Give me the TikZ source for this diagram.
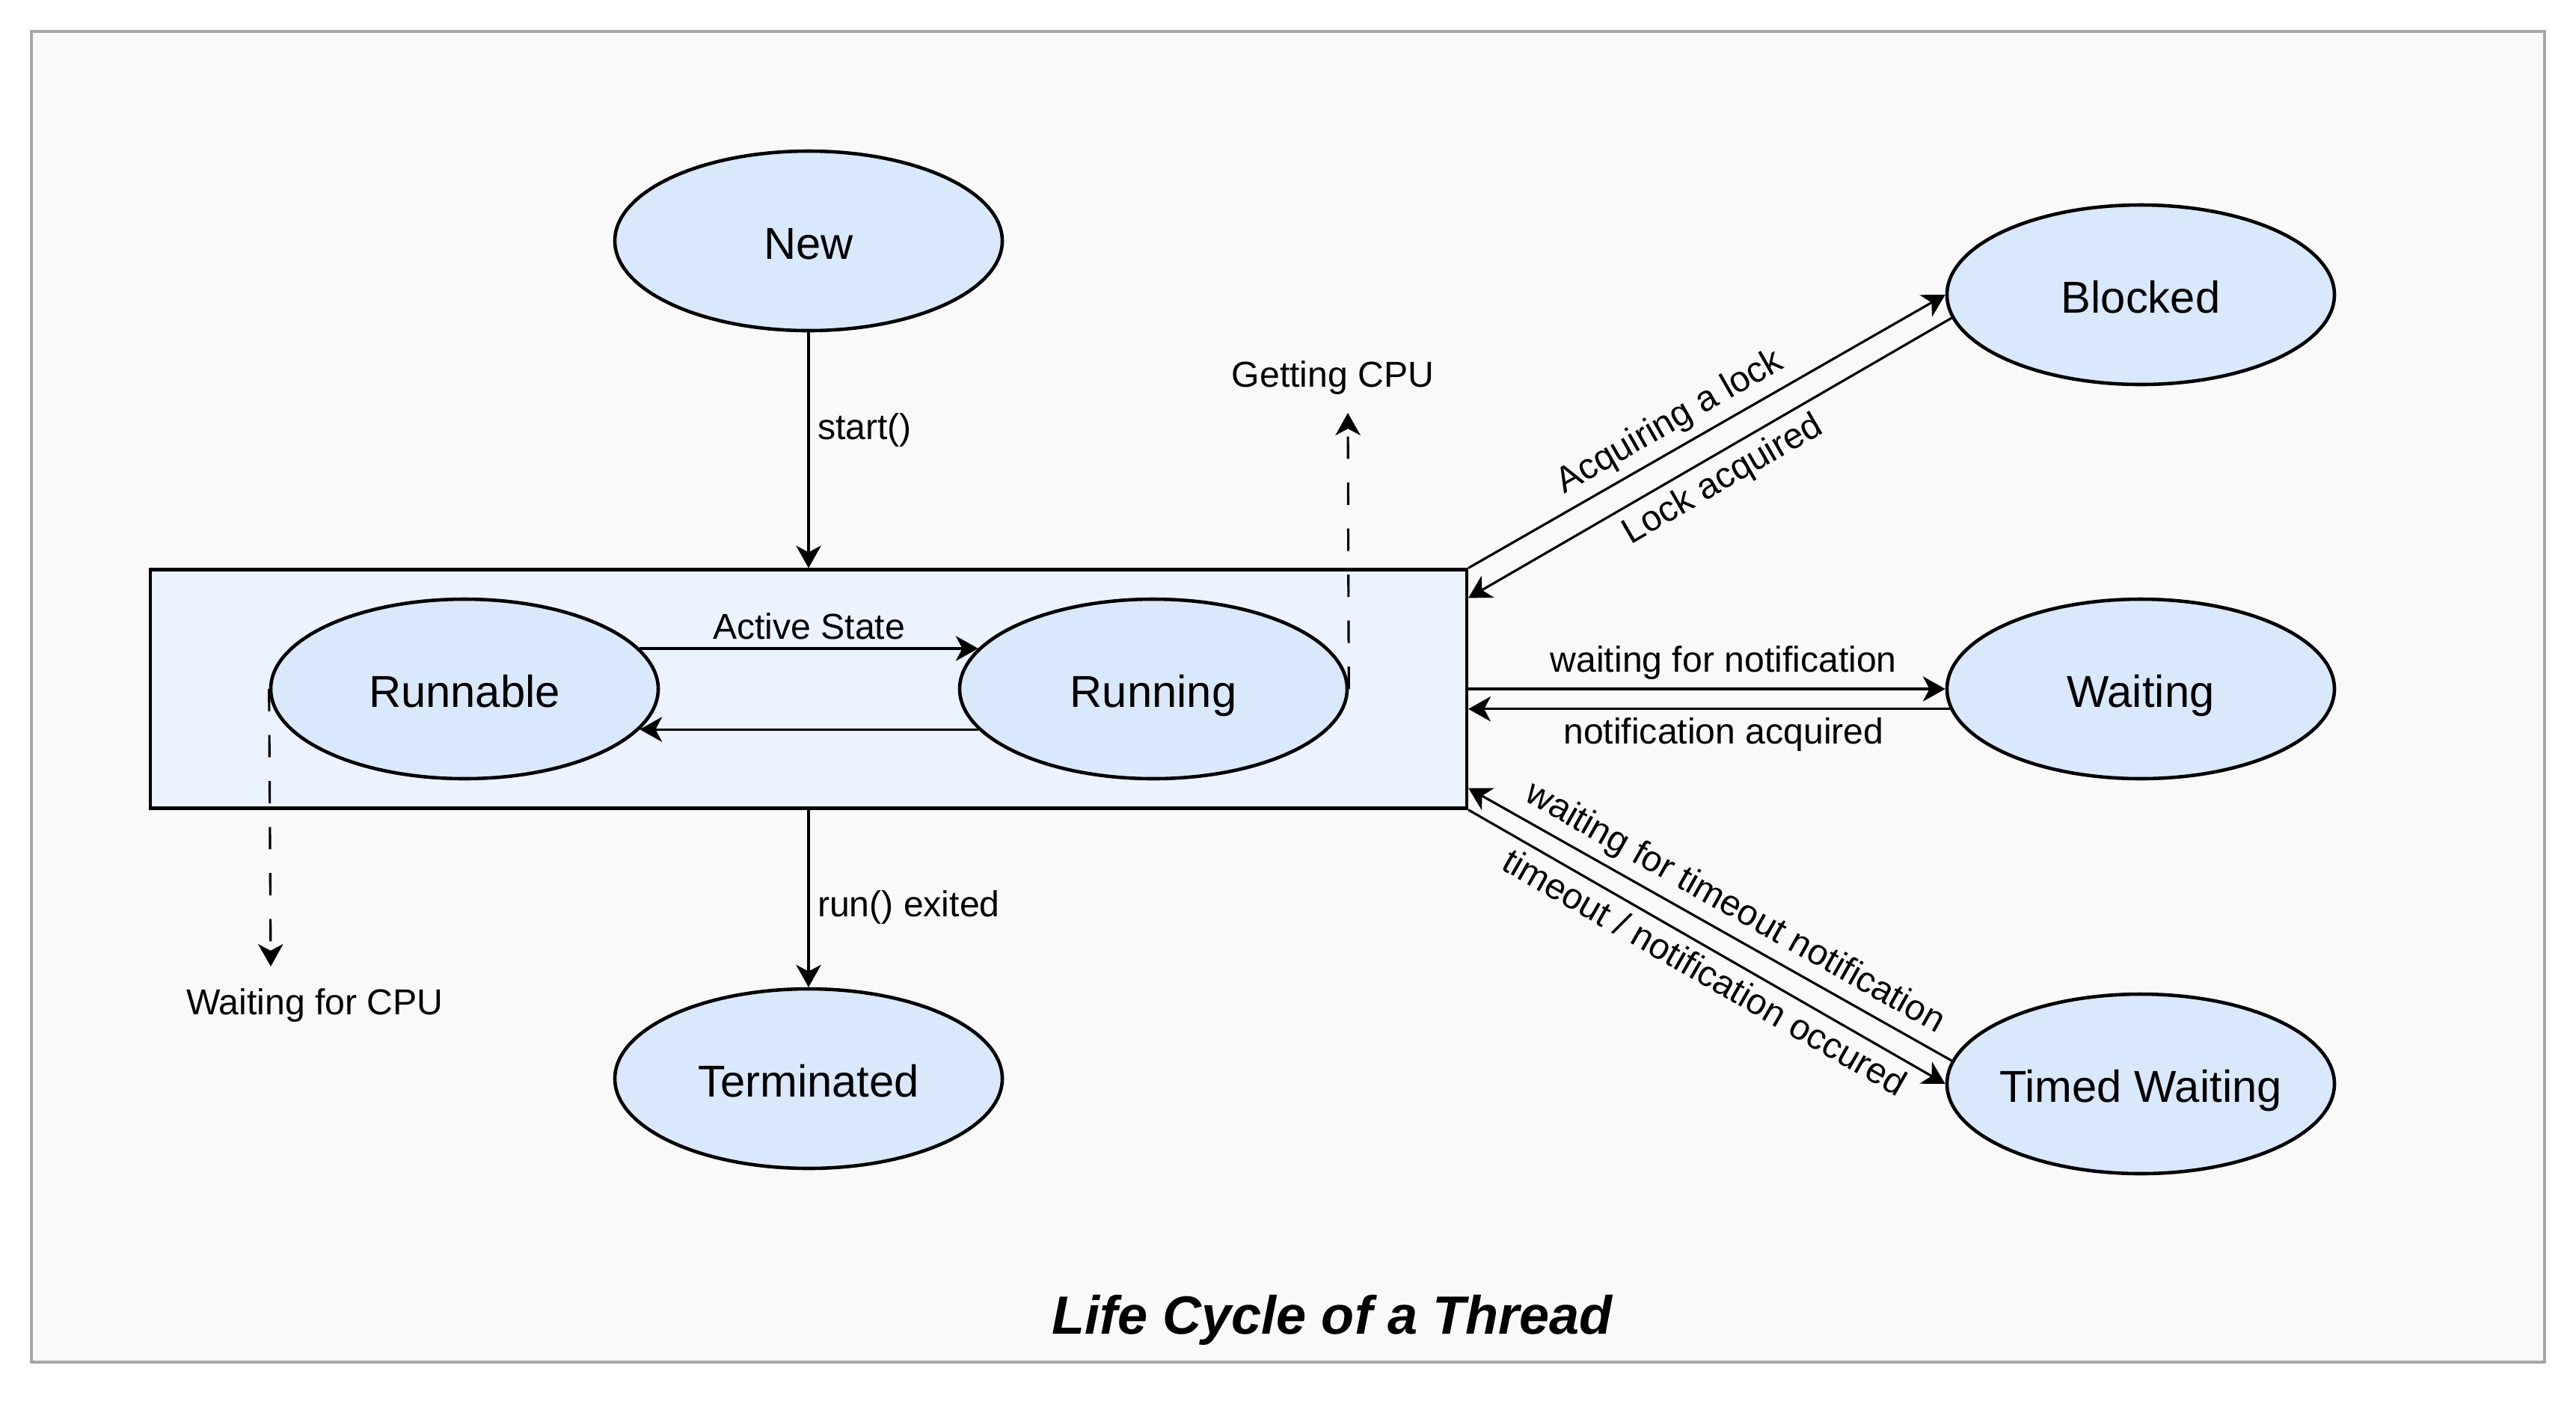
\documentclass[tikz,border=0pt]{standalone}
\usepackage{fontspec}
\setmainfont{Liberation Sans}
\usetikzlibrary{arrows.meta,shapes.geometric}
\definecolor{statefill}{HTML}{DAE8FC}
\definecolor{activefill}{HTML}{EBF3FE}
\definecolor{framegray}{HTML}{A6A6A6}
\definecolor{pagebg}{HTML}{F9F9F9}

\begin{document}
\begin{tikzpicture}[
	state/.style={ellipse, draw, line width=1.3pt, fill=statefill, minimum width=5.18cm, minimum height=2.4cm, inner ysep=0pt, inner xsep=-10pt, text height=14pt, text depth=0pt, font=\fontsize{17}{20}\selectfont},
	trans/.style={-{Stealth[length=8.5pt,width=9.5pt,inset=2.5pt]}, line width=0.9pt},
	cpu/.style={trans, dash pattern=on 8.5pt off 9pt},
	lbl/.style={font=\fontsize{13.7}{16}\selectfont, inner sep=3pt}
]
	\useasboundingbox (0,0) rectangle (34.44,-18.84);
	\draw[framegray, line width=1.2pt, fill=pagebg] (0.42,-0.42) rectangle (34.02,-18.21);

	\node[draw, line width=1.2pt, fill=activefill, minimum width=17.6cm, minimum height=3.19cm, inner sep=0pt] (active) at (10.81,-9.21) {};

	\node[state] (new) at (10.81,-3.22) {New};
	\node[state] (runnable) at (6.21,-9.21) {Runnable};
	\node[state] (running) at (15.42,-9.21) {Running};
	\node[state] (terminated) at (10.81,-14.42) {Terminated};
	\node[state] (blocked) at (28.62,-3.94) {Blocked};
	\node[state] (waiting) at (28.62,-9.21) {Waiting};
	\node[state] (timed) at (28.62,-14.49) {Timed Waiting};

	\draw[trans] (new) -- (active) node[lbl, pos=0.415, right] {start()};
	\draw[trans] (active) -- (terminated) node[lbl, pos=0.55, right] {run() exited};
	\draw[trans] (runnable.13) -- (running.167) node[lbl, midway, above] {Active State};
	\draw[trans] (running.193) -- (runnable.-13);

	\coordinate (cpuin) at (3.62,-12.92);
	\draw[cpu] (runnable.west) -- (cpuin);
	\node[lbl] (waitcpu) at (4.21,-13.44) {Waiting for CPU};
	\coordinate (cpuout) at (18.02,-5.52);
	\draw[cpu] (running.east) -- (cpuout);
	\node[lbl] (getcpu) at (17.82,-5.05) {Getting CPU};

	\draw[trans] (active.north east) -- (blocked.west) node[lbl, pos=0.45, sloped, above] {Acquiring a lock};
	\draw[trans] (blocked.187) -- ([yshift=-4mm]active.north east) node[lbl, midway, sloped, below] {Lock acquired};
	\draw[trans] (active.east) -- (waiting.west) node[lbl, pos=0.535, above] {waiting for notification};
	\draw[trans] (waiting.186) -- (waiting.186 -| active.east) node[lbl, pos=0.47, below] {notification acquired};
	\draw[trans] (timed.173) -- ([yshift=2.9mm]active.south east) node[lbl, pos=0.475, sloped, above] {waiting for timeout notification};
	\draw[trans] (active.south east) -- (timed.west) node[lbl, pos=0.52, sloped, below] {timeout / notification occured};

	\node[font=\fontsize{20.5}{24}\selectfont\bfseries\itshape] (title) at (17.81,-17.65) {Life Cycle of a Thread};
\end{tikzpicture}
\end{document}
